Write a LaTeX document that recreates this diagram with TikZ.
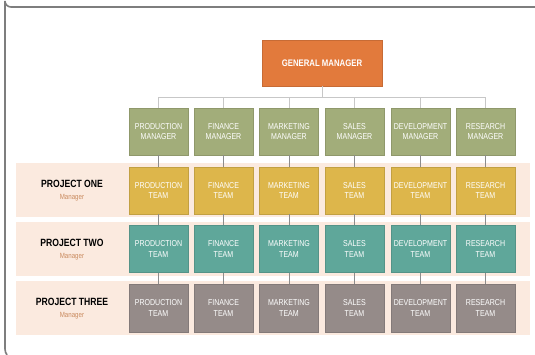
\documentclass[tikz,border=0pt]{standalone}
\usepackage{fontspec}
\setmainfont{Liberation Sans}[FakeStretch=0.82]
\usetikzlibrary{shadows}
\definecolor{gmC}{HTML}{E27A3C}
\definecolor{mgrC}{HTML}{A2AD7A}
\definecolor{oneC}{HTML}{DDB64B}
\definecolor{twoC}{HTML}{5FA79A}
\definecolor{threeC}{HTML}{958B89}
\definecolor{bandC}{HTML}{FBEADF}
\definecolor{frameC}{HTML}{7E7E7E}
\definecolor{mgrTxt}{HTML}{C98A5E}
\begin{document}
\begin{tikzpicture}[x=1pt,y=-1pt,
  box/.style={minimum width=59pt,minimum height=47pt,inner sep=0pt,align=center,
    text=white,font=\fontsize{8.6}{10.5}\selectfont,fill=#1,draw=#1!88!black,line width=0.3pt,
    drop shadow={shadow xshift=0.6pt,shadow yshift=-0.8pt,opacity=0.25}},
  band/.style={fill=bandC,draw=none,minimum width=514pt,minimum height=54pt,inner sep=0pt},
  plabel/.style={align=center,inner sep=0pt,font=\fontsize{10.5}{13}\selectfont\bfseries},
  topconn/.style={draw=black!22,line width=0.9pt},
  conn/.style={draw=black!45,line width=0.6pt}]
\useasboundingbox (0,0) rectangle (535,355);
% frame
\draw[frameC,line width=1.6pt] (535,7) -- (11,7) arc[start angle=90,end angle=180,radius=6] -- (5,349) to[out=-90,in=120] (7,355);
% bands
\node[band] (band1) at (273,190) {};
\node[band] (band2) at (273,249) {};
\node[band] (band3) at (273,307.5) {};
% project labels
\node[plabel] (p1) at (72,191) {PROJECT ONE\\[-1pt]{\fontsize{7.5}{8}\selectfont\mdseries\color{mgrTxt}Manager}};
\node[plabel] (p2) at (72,250) {PROJECT TWO\\[-1pt]{\fontsize{7.5}{8}\selectfont\mdseries\color{mgrTxt}Manager}};
\node[plabel] (p3) at (72,309) {PROJECT THREE\\[-1pt]{\fontsize{7.5}{8}\selectfont\mdseries\color{mgrTxt}Manager}};
% general manager
\node[box=gmC,minimum width=120pt,minimum height=46pt,font=\fontsize{9.5}{11}\selectfont\bfseries] (gm) at (322,63) {GENERAL MANAGER};
\coordinate (bus) at (0,97);
\foreach \i/\nm/\x in {1/PRODUCTION/158.5,2/FINANCE/223.5,3/MARKETING/289,4/SALES/354.5,5/DEVELOPMENT/420.5,6/RESEARCH/485.5}{
  \node[box=mgrC] (m\i) at (\x,131.5) {\nm\\MANAGER};
  \node[box=oneC] (a\i) at (\x,190.5) {\nm\\TEAM};
  \node[box=twoC] (b\i) at (\x,249) {\nm\\TEAM};
  \node[box=threeC,minimum height=48pt] (c\i) at (\x,308) {\nm\\TEAM};
}
\foreach \i in {1,...,6}{
  \draw[topconn] (gm.south) -- (gm.south |- bus) -| (m\i.north);
  \draw[conn] (m\i.south) -- (a\i.north);
  \draw[conn] (a\i.south) -- (b\i.north);
  \draw[conn] (b\i.south) -- (c\i.north);
}
\end{tikzpicture}
\end{document}
